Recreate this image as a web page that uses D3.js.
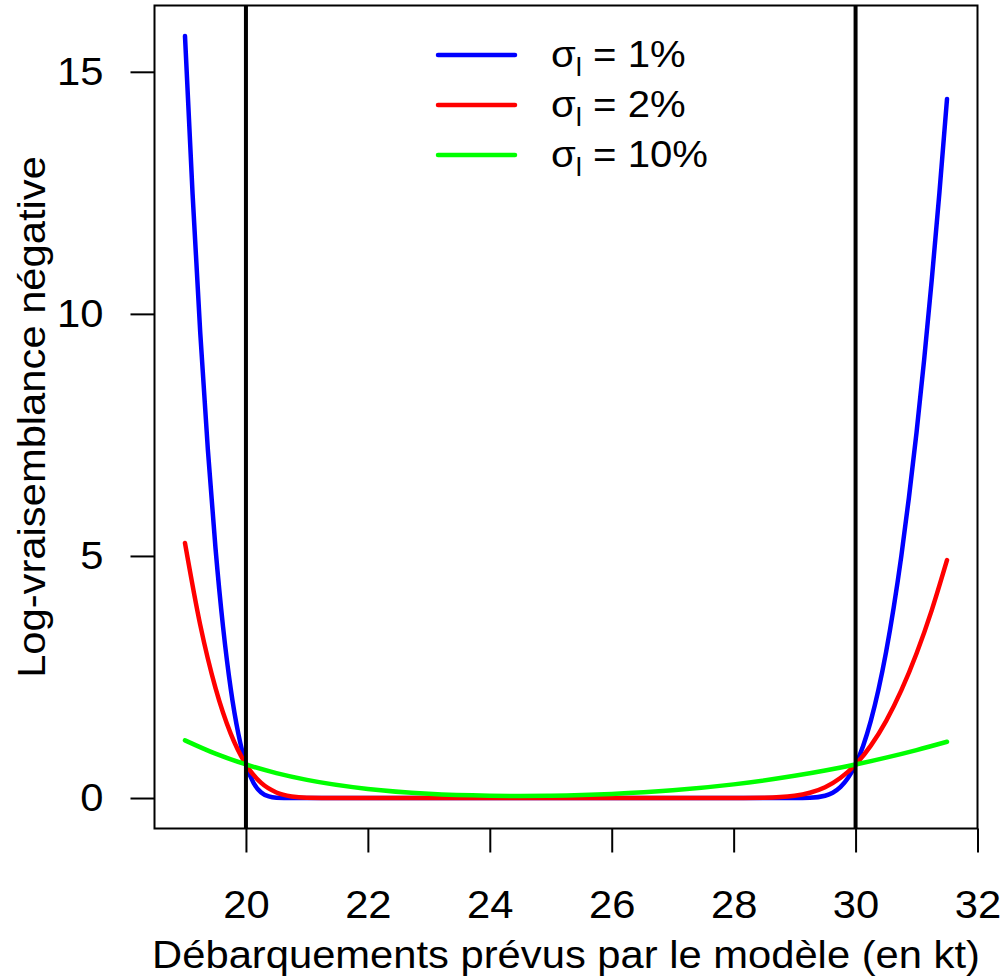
<!DOCTYPE html>
<html>
<head>
<meta charset="utf-8">
<script src="https://cdn.jsdelivr.net/npm/d3@7"></script>
<style>
  html, body { margin: 0; padding: 0; background: #fff; }
  svg { display: block; }
  text { font-family: "Liberation Sans", Arial, sans-serif; fill: #000; }
</style>
</head>
<body>
<svg id="chart" width="1005" height="979"></svg>
<script>
// ---- data ----
const blueX = [19, 19.125, 19.25, 19.375, 19.5, 19.625, 19.75, 19.875, 20, 20.125, 20.25, 20.375, 20.5, 20.75, 21, 22, 25, 28, 29, 29.25, 29.5, 29.625, 29.75, 29.875, 30, 30.125, 30.25, 30.375, 30.5, 30.625, 30.75, 30.875, 31, 31.125, 31.25, 31.375, 31.5];
const blueY = [15.74, 12.47, 9.62, 7.20, 5.17, 3.53, 2.26, 1.33, 0.693, 0.31, 0.113, 0.032, 0.007, 0.0001, 0, 0, 0, 0, 0.0004, 0.0057, 0.0475, 0.110, 0.2248, 0.413, 0.693, 1.082, 1.593, 2.234, 3.012, 3.932, 4.994, 6.205, 7.552, 9.055, 10.707, 12.50, 14.44];

const redX = [19, 19.25, 19.5, 19.75, 20, 20.25, 20.5, 20.75, 21, 21.5, 22, 25, 28, 28.5, 29, 29.25, 29.5, 29.75, 30, 30.25, 30.5, 30.75, 31, 31.25, 31.5];
const redY = [5.267, 3.576, 2.275, 1.329, 0.693, 0.311, 0.115, 0.033, 0.007, 0.0002, 0, 0, 0.0003, 0.0052, 0.046, 0.1085, 0.223, 0.4125, 0.693, 1.082, 1.589, 2.222, 2.984, 3.882, 4.914];

const greenX = [19, 19.5, 20, 20.5, 21, 22, 23, 24, 24.5, 25, 26, 27, 28, 29, 29.5, 30, 30.5, 31, 31.5];
const greenY = [1.191, 0.916, 0.693, 0.515, 0.375, 0.188, 0.088, 0.048, 0.043, 0.048, 0.084, 0.159, 0.282, 0.458, 0.568, 0.693, 0.834, 0.990, 1.162];

const seriesNames = ["1%", "2%", "10%"];
const seriesColors = ["#0000ff", "#ff0000", "#00ff00"];
const xTicks = [20, 22, 24, 26, 28, 30, 32];
const yTicks = [0, 5, 10, 15];
const boundLines = [20, 30];
const xTitle = "Débarquements prévus par le modèle (en kt)";
const yTitle = "Log-vraisemblance négative";

// ---- layout ----
const svg = d3.select("#chart");
const mLeft = 154.5, mRight = 977.5, mTop = 5.5, mBottom = 828.5;
const SX = 1.07; // horizontal glyph stretch to match reference text widths
const x = d3.scaleLinear().domain([18.5, 32]).range([mLeft, mRight]);
const y = d3.scaleLinear().domain([-0.6296, 16.3696]).range([mBottom, mTop]);

const series = [
  { x: blueX, y: blueY },
  { x: redX, y: redY },
  { x: greenX, y: greenY }
];

svg.append("clipPath").attr("id", "clip").append("rect")
  .attr("x", mLeft).attr("y", mTop).attr("width", mRight - mLeft).attr("height", mBottom - mTop);

const line = d3.line().x(d => x(d[0])).y(d => y(d[1])).curve(d3.curveMonotoneX);
const plot = svg.append("g").attr("clip-path", "url(#clip)");
series.forEach((s, i) => {
  plot.append("path")
    .datum(s.x.map((v, k) => [v, s.y[k]]))
    .attr("fill", "none")
    .attr("stroke", seriesColors[i])
    .attr("stroke-width", 4.5)
    .attr("stroke-linejoin", "round")
    .attr("stroke-linecap", "round")
    .attr("d", line);
});

// vertical bound lines
boundLines.forEach(b => {
  svg.append("line")
    .attr("x1", x(b)).attr("x2", x(b))
    .attr("y1", mTop).attr("y2", mBottom)
    .attr("stroke", "#000").attr("stroke-width", 4);
});

// box
svg.append("rect")
  .attr("x", mLeft).attr("y", mTop).attr("width", mRight - mLeft).attr("height", mBottom - mTop)
  .attr("fill", "none").attr("stroke", "#000").attr("stroke-width", 2);

function stretchText(sel) {
  sel.each(function () {
    const x0 = +(this.getAttribute("x") || 0);
    this.setAttribute("transform", `translate(${x0},0) scale(${SX},1) translate(${-x0},0)`);
  });
}

// x axis
const xAxis = d3.axisBottom(x).tickValues(xTicks).tickSize(24).tickPadding(38).tickFormat(d3.format("d"));
const gx = svg.append("g").attr("transform", `translate(0,${mBottom})`).call(xAxis);
gx.select(".domain").remove();
gx.selectAll(".tick line").attr("stroke", "#000").attr("stroke-width", 2);
gx.selectAll(".tick text").attr("font-size", 39).attr("fill", "#000")
  .attr("font-family", "'Liberation Sans', Arial, sans-serif").call(stretchText);

// y axis
const yAxis = d3.axisLeft(y).tickValues(yTicks).tickSize(24).tickPadding(27).tickFormat(d3.format("d"));
const gy = svg.append("g").attr("transform", `translate(${mLeft},0)`).call(yAxis);
gy.select(".domain").remove();
gy.selectAll(".tick line").attr("stroke", "#000").attr("stroke-width", 2);
gy.selectAll(".tick text").attr("font-size", 39).attr("fill", "#000")
  .attr("font-family", "'Liberation Sans', Arial, sans-serif").call(stretchText);

// titles
svg.append("text")
  .attr("transform", `translate(${(mLeft + mRight) / 2},968) scale(${SX},1)`)
  .attr("text-anchor", "middle").attr("font-size", 39)
  .text(xTitle);
svg.append("text")
  .attr("transform", `translate(45,${(mTop + mBottom) / 2}) rotate(-90) scale(${SX},1)`)
  .attr("text-anchor", "middle").attr("font-size", 39)
  .text(yTitle);

// legend
const legend = svg.append("g");
seriesNames.forEach((n, i) => {
  const ly = 55 + i * 50;
  legend.append("line")
    .attr("x1", 438).attr("x2", 515).attr("y1", ly).attr("y2", ly)
    .attr("stroke", seriesColors[i]).attr("stroke-width", 4.5).attr("stroke-linecap", "round");
  const t = legend.append("text")
    .attr("transform", `translate(551,${ly + 12}) scale(${SX},1)`)
    .attr("font-size", 37.5);
  t.append("tspan").text("σ");
  t.append("tspan").attr("font-size", 26).attr("dy", 9).text("l");
  t.append("tspan").attr("dy", -9).text(" = " + n);
});
</script>
</body>
</html>
